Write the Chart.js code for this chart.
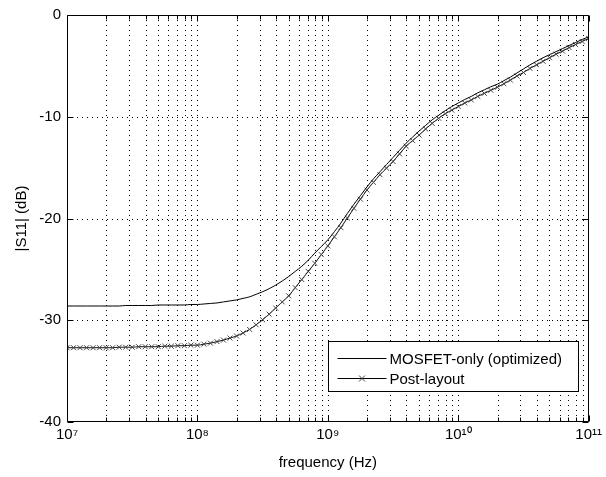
<!DOCTYPE html>
<html>
<head>
<meta charset="utf-8">
<script src="https://cdn.jsdelivr.net/npm/chart.js@4.4.0/dist/chart.umd.min.js"></script>
<style>
  html, body { margin: 0; padding: 0; background: #fff; }
  #wrap { width: 606px; height: 477px; }
</style>
</head>
<body>
<div id="wrap"><canvas id="s11Chart" width="606" height="477"></canvas></div>
<script>
// sample frequencies as log10(Hz)
const freqExp = [
  7.00, 7.05, 7.10, 7.15, 7.20, 7.25, 7.30, 7.35, 7.40, 7.45,
  7.50, 7.55, 7.60, 7.65, 7.70, 7.75, 7.80, 7.85, 7.90, 7.95,
  8.00, 8.05, 8.10, 8.15, 8.20, 8.25, 8.30, 8.35, 8.40, 8.45,
  8.50, 8.55, 8.60, 8.65, 8.70, 8.75, 8.80, 8.85, 8.90, 8.95,
  9.00, 9.05, 9.10, 9.15, 9.20, 9.25, 9.30, 9.35, 9.40, 9.45,
  9.50, 9.55, 9.60, 9.65, 9.70, 9.75, 9.80, 9.85, 9.90, 9.95,
  10.00, 10.05, 10.10, 10.15, 10.20, 10.25, 10.30, 10.35, 10.40, 10.45,
  10.50, 10.55, 10.60, 10.65, 10.70, 10.75, 10.80, 10.85, 10.90, 10.95,
  11.00,
];
// |S11| in dB
const mosfetOnly = [
  -28.6, -28.6, -28.6, -28.6, -28.6, -28.6, -28.6, -28.6, -28.6, -28.55,
  -28.55, -28.55, -28.55, -28.55, -28.5, -28.5, -28.5, -28.5, -28.5, -28.45,
  -28.45, -28.4, -28.35, -28.3, -28.2, -28.1, -28.0, -27.85, -27.7, -27.45,
  -27.2, -26.9, -26.55, -26.15, -25.7, -25.2, -24.7, -24.1, -23.4, -22.75,
  -22.1, -21.3, -20.45, -19.5, -18.6, -17.75, -16.9, -16.1, -15.4, -14.7,
  -14.0, -13.3, -12.6, -12.0, -11.4, -10.85, -10.3, -9.85, -9.4, -9.0,
  -8.65, -8.3, -8.0, -7.65, -7.35, -7.05, -6.8, -6.45, -6.1, -5.7,
  -5.3, -4.9, -4.55, -4.2, -3.9, -3.6, -3.3, -3.0, -2.7, -2.4,
  -2.15,
];
const postLayout = [
  -32.7, -32.7, -32.7, -32.7, -32.7, -32.7, -32.7, -32.7, -32.65, -32.65,
  -32.65, -32.6, -32.6, -32.6, -32.6, -32.55, -32.55, -32.5, -32.5, -32.45,
  -32.45, -32.35, -32.25, -32.1, -31.95, -31.75, -31.55, -31.25, -30.9, -30.45,
  -29.95, -29.4, -28.8, -28.2, -27.6, -26.8, -26.0, -25.2, -24.4, -23.55,
  -22.7, -21.8, -20.9, -19.95, -19.0, -18.1, -17.2, -16.45, -15.7, -15.05,
  -14.4, -13.65, -12.9, -12.35, -11.8, -11.2, -10.65, -10.15, -9.7, -9.35,
  -9.0, -8.65, -8.35, -8.0, -7.7, -7.4, -7.1, -6.75, -6.4, -6.0,
  -5.65, -5.25, -4.9, -4.55, -4.2, -3.85, -3.55, -3.2, -2.9, -2.6,
  -2.3,
];
const seriesNames = ["MOSFET-only (optimized)", "Post-layout"];
const xDecades = [7, 8, 9, 10, 11];
const yTicks = [-40, -30, -20, -10, 0];
const xTitle = "frequency (Hz)";
const yTitle = "|S11| (dB)";

const FONT = "'Liberation Sans', Arial, sans-serif";
const supDigits = { "0": "⁰", "1": "¹", "2": "²", "3": "³", "4": "⁴", "5": "⁵", "6": "⁶", "7": "⁷", "8": "⁸", "9": "⁹" };
function toSup(n) {
  return String(n).split("").map((c) => supDigits[c]).join("");
}

function pts(vals) {
  return freqExp.map((e, i) => ({ x: Math.pow(10, e), y: vals[i] }));
}

// grid positions: 1..9 x 10^n inside the decade range
const xGridVals = [];
xDecades.forEach((d, i) => {
  for (let m = 1; m <= 9; m++) {
    if (i === xDecades.length - 1 && m > 1) break;
    xGridVals.push(m * Math.pow(10, d));
  }
});

// dotted grid under the curves
const gridPlugin = {
  id: "gridPlugin",
  beforeDatasetsDraw(chart) {
    const { ctx, chartArea: a, scales } = chart;
    ctx.save();
    ctx.strokeStyle = "#000";
    ctx.lineWidth = 1;
    ctx.setLineDash([1, 4]);
    ctx.beginPath();
    xGridVals.slice(1, -1).forEach((v) => {
      const px = Math.round(scales.x.getPixelForValue(v)) + 0.5;
      ctx.moveTo(px, a.top); ctx.lineTo(px, a.bottom);
    });
    yTicks.slice(1, -1).forEach((v) => {
      const py = Math.round(scales.y.getPixelForValue(v)) + 0.5;
      ctx.moveTo(a.left, py); ctx.lineTo(a.right, py);
    });
    ctx.stroke();
    ctx.restore();
  },
};

// MATLAB-like box, inward ticks and legend inside the axes
const boxPlugin = {
  id: "boxPlugin",
  afterDraw(chart) {
    const { ctx, chartArea: a, scales } = chart;
    const xs = scales.x, ys = scales.y;
    ctx.save();
    ctx.strokeStyle = "#000";
    ctx.lineWidth = 1;
    ctx.beginPath();
    const L = Math.round(a.left) + 0.5, R = Math.round(a.right) - 0.5;
    const T = Math.round(a.top) + 0.5, B = Math.round(a.bottom) - 0.5;
    ctx.moveTo(L, T); ctx.lineTo(R, T); ctx.lineTo(R, B); ctx.lineTo(L, B); ctx.closePath();
    xGridVals.forEach((v) => {
      const px = Math.round(xs.getPixelForValue(v)) + 0.5;
      const major = Math.abs(Math.log10(v) - Math.round(Math.log10(v))) < 1e-9;
      const len = major ? 6 : 4;
      ctx.moveTo(px, B); ctx.lineTo(px, B - len);
      ctx.moveTo(px, T); ctx.lineTo(px, T + len);
    });
    yTicks.forEach((v) => {
      const py = Math.round(ys.getPixelForValue(v)) + 0.5;
      ctx.moveTo(L, py); ctx.lineTo(L + 6, py);
      ctx.moveTo(R, py); ctx.lineTo(R - 6, py);
    });
    ctx.stroke();

    // legend
    const bw = 250, bh = 50;
    const bx = Math.round(a.right) - 11 - bw + 0.5;
    const by = Math.round(a.bottom) - 31 - bh + 0.5;
    ctx.fillStyle = "#fff";
    ctx.fillRect(bx, by, bw, bh);
    ctx.strokeRect(bx, by, bw, bh);
    ctx.font = "15px " + FONT;
    ctx.textBaseline = "middle";
    ctx.textAlign = "left";
    chart.data.datasets.forEach((ds, i) => {
      const cy = Math.round(by + 16 + i * 20) + 0.5;
      ctx.strokeStyle = "#000";
      ctx.beginPath();
      ctx.moveTo(bx + 9, cy); ctx.lineTo(bx + 58, cy);
      ctx.stroke();
      if (ds.pointRadius > 0) {
        const mx = bx + 33.5, r = 3;
        ctx.strokeStyle = ds.pointBorderColor;
        ctx.beginPath();
        ctx.moveTo(mx - r, cy - r); ctx.lineTo(mx + r, cy + r);
        ctx.moveTo(mx - r, cy + r); ctx.lineTo(mx + r, cy - r);
        ctx.stroke();
      }
      ctx.fillStyle = "#000";
      ctx.fillText(ds.label, bx + 61, cy + 1);
    });
    ctx.restore();
  },
};

const ctx = document.getElementById("s11Chart").getContext("2d");
new Chart(ctx, {
  type: "line",
  data: {
    datasets: [
      {
        label: seriesNames[0],
        data: pts(mosfetOnly),
        borderColor: "#000",
        borderWidth: 1,
        pointRadius: 0,
        cubicInterpolationMode: "monotone",
      },
      {
        label: seriesNames[1],
        data: pts(postLayout),
        borderColor: "#111",
        borderWidth: 1,
        pointStyle: "crossRot",
        pointRadius: 3.5,
        pointBorderColor: "#444",
        pointBorderWidth: 1,
        cubicInterpolationMode: "monotone",
      },
    ],
  },
  options: {
    responsive: false,
    devicePixelRatio: 1,
    animation: false,
    layout: { padding: { left: 0, right: 16, top: 13, bottom: 0 } },
    plugins: {
      legend: { display: false },
      tooltip: { enabled: false },
    },
    scales: {
      x: {
        type: "logarithmic",
        min: Math.pow(10, xDecades[0]),
        max: Math.pow(10, xDecades[xDecades.length - 1]),
        afterBuildTicks(scale) {
          scale.ticks = xGridVals.map((v) => ({ value: v }));
        },
        afterFit(scale) { scale.height = 55; },
        ticks: {
          autoSkip: false,
          maxRotation: 0,
          padding: 4,
          color: "#000",
          font: { family: FONT, size: 15 },
          callback(v) {
            const e = Math.log10(v);
            if (Math.abs(e - Math.round(e)) < 1e-9) return "10" + toSup(Math.round(e));
            return "";
          },
        },
        grid: { display: false, drawTicks: false },
        border: { display: false },
        title: {
          display: true,
          text: xTitle,
          color: "#000",
          font: { family: FONT, size: 15 },
          padding: { top: 0, bottom: 5 },
        },
      },
      y: {
        min: yTicks[0],
        max: yTicks[yTicks.length - 1],
        afterBuildTicks(scale) {
          scale.ticks = yTicks.map((v) => ({ value: v }));
        },
        afterFit(scale) { scale.width = 67; },
        ticks: {
          padding: 6,
          color: "#000",
          font: { family: FONT, size: 15 },
        },
        grid: { display: false, drawTicks: false },
        border: { display: false },
        title: {
          display: true,
          text: yTitle,
          color: "#000",
          font: { family: FONT, size: 15 },
          padding: { top: 13, bottom: 0 },
        },
      },
    },
  },
  plugins: [gridPlugin, boxPlugin],
});
</script>
</body>
</html>
